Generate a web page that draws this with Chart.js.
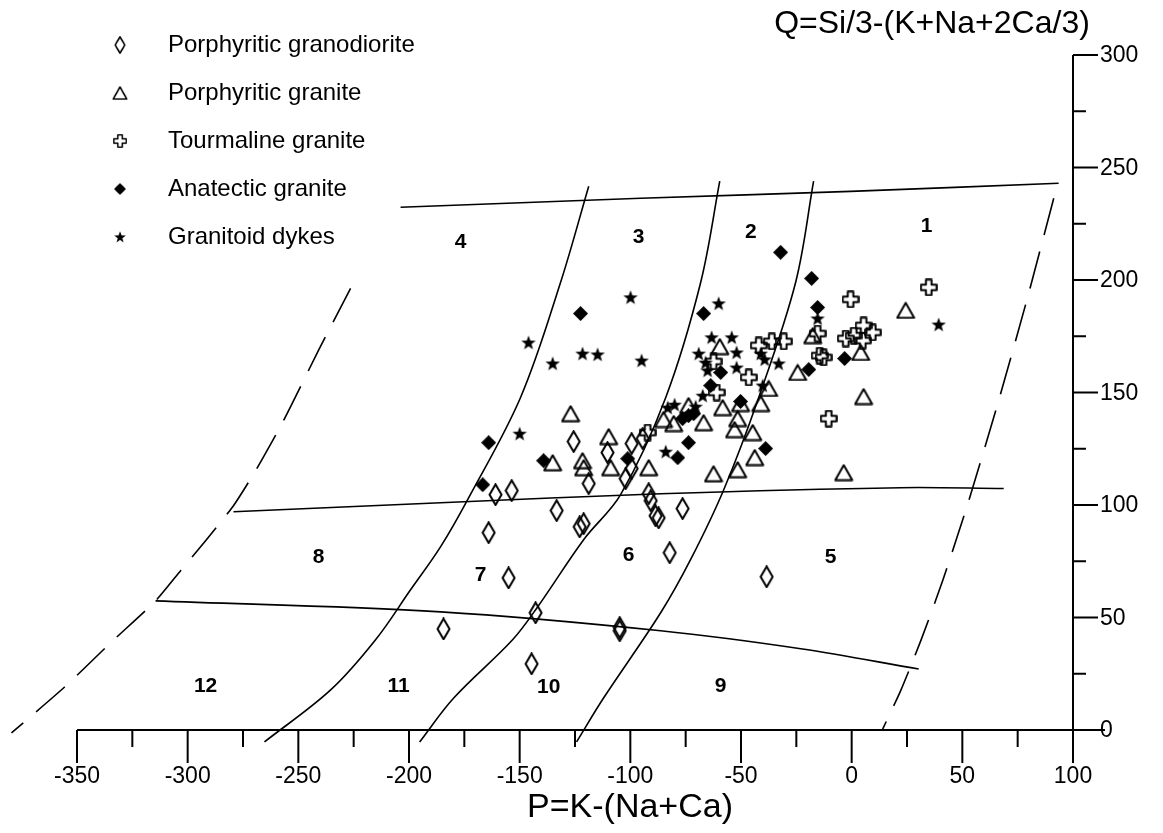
<!DOCTYPE html>
<html>
<head>
<meta charset="utf-8">
<script src="https://cdn.jsdelivr.net/npm/chart.js@4.4.1/dist/chart.umd.min.js"></script>
<style>
html, body { margin: 0; padding: 0; background: #fff; }
canvas { display: block; }
</style>
</head>
<body>
<canvas id="myChart" width="1163" height="833"></canvas>
<script>
// axis ticks
const xTicks = [-350, -300, -250, -200, -150, -100, -50, 0, 50, 100];
const xMinorTicks = [-325, -275, -225, -175, -125, -75, -25, 25, 75];
const yTicks = [0, 50, 100, 150, 200, 250, 300];
const yMinorTicks = [25, 75, 125, 175, 225, 275];

const seriesNames = ['Porphyritic granodiorite', 'Porphyritic granite', 'Tourmaline granite', 'Anatectic granite', 'Granitoid dykes'];

// P, Q values
const granodiorite = [
    [-125.6, 128.2], [-118.8, 109.5], [-110.3, 123.3], [-99.4, 127.3], [-99.4, 116.2],
    [-102.1, 111.7], [-94.4, 129.5], [-160.9, 104.6], [-153.6, 106.4], [-133.3, 97.5],
    [-122.9, 90.3], [-121.1, 91.7], [-164.0, 87.7], [-155.0, 67.6], [-142.8, 52.1],
    [-184.4, 44.9], [-104.8, 44.1], [-104.8, 45.5], [-144.6, 29.4], [-91.7, 105.0],
    [-90.8, 101.9], [-88.6, 95.2], [-87.2, 94.3], [-76.4, 98.4], [-82.2, 78.8],
    [-38.4, 68.1]
];
const porphGranite = [
    [-127.0, 140.6], [-109.8, 130.4], [-121.6, 119.7], [-121.1, 116.6], [-108.9, 116.6],
    [-135.1, 118.8], [-91.7, 116.6], [-85.0, 138.0], [-80.4, 136.2], [-66.9, 136.6],
    [-58.3, 143.3], [-50.2, 145.1], [-51.5, 138.4], [-52.9, 133.5], [-44.7, 132.2],
    [-43.8, 121.1], [-62.4, 113.9], [-51.5, 115.7], [-59.6, 170.4], [-73.7, 144.2],
    [-41.1, 145.1], [-37.5, 151.8], [-24.4, 158.9], [-17.6, 175.3], [4.1, 167.8],
    [5.4, 148.2], [24.4, 186.5], [-3.6, 114.4]
];
const tourmaline = [
    [-92.2, 132.2], [-62.4, 163.8], [-61.0, 150.0], [-46.5, 156.7], [-42.0, 170.9],
    [-36.1, 172.7], [-30.7, 172.7], [-15.4, 176.2], [-14.5, 166.4], [-12.7, 165.6],
    [-2.7, 174.0], [0.9, 175.3], [5.4, 179.8], [9.5, 176.7], [5.0, 173.1],
    [-10.4, 138.4], [-0.5, 191.4], [34.8, 196.7]
];
const anatectic = [
    [-122.5, 185.1], [-164.0, 127.7], [-166.7, 109.0], [-139.2, 119.7], [-101.2, 120.6],
    [-76.4, 138.4], [-73.7, 139.7], [-71.4, 140.6], [-73.7, 127.7], [-78.6, 121.0],
    [-66.9, 185.1], [-59.2, 158.9], [-63.7, 153.1], [-50.2, 146.0], [-19.4, 160.2],
    [-3.2, 165.1], [-32.1, 212.3], [-18.1, 200.7], [-15.4, 187.8], [-38.9, 125.1]
];
const dykes = [
    [-99.9, 192.3], [-146.0, 172.2], [-135.1, 162.9], [-121.6, 167.3], [-114.8, 166.9],
    [-94.9, 164.2], [-150.0, 131.7], [-60.1, 189.6], [-63.3, 174.5], [-54.2, 174.5],
    [-52.0, 167.8], [-69.1, 167.3], [-66.0, 163.3], [-65.1, 159.8], [-52.0, 161.1],
    [-67.3, 148.6], [-70.5, 143.7], [-83.1, 143.3], [-80.0, 144.6], [-84.0, 123.7],
    [-41.1, 167.3], [-39.3, 164.7], [-33.0, 162.9], [-40.2, 153.1], [-15.4, 182.9],
    [39.3, 180.2]
];

// field boundaries of the diagram
const lineTop = [[-203.8, 232.3], [-95.3, 236.3], [-0.5, 239.4], [93.5, 243.0]];
const lineMid = [[-279.3, 97.0], [-185.7, 101.0], [-86.3, 105.0], [22.1, 107.7], [68.7, 107.3]];
const lineLow = [[-314.5, 57.4], [-185.7, 52.5], [-86.3, 44.1], [-23.0, 36.1], [30.3, 27.1]];
const curve1 = [[-118.8, 241.7], [-131.5, 199.0], [-149.6, 147.8], [-173.5, 102.4], [-185.7, 81.5],
    [-199.3, 62.3], [-215.1, 40.1], [-235.4, 17.8], [-265.3, -5.3]];
const curve2 = [[-59.6, 243.9], [-68.2, 199.0], [-84.0, 147.8], [-104.4, 104.6], [-121.1, 84.6],
    [-141.9, 54.7], [-153.2, 40.1], [-179.8, 14.2], [-195.2, -5.3]];
const curve3 = [[-17.2, 243.9], [-25.3, 199.0], [-42.0, 147.8], [-57.8, 106.8], [-72.8, 75.7],
    [-86.3, 52.1], [-112.1, 14.2], [-124.3, -5.3]];
const dashLeft = [[-226.4, 196.3], [-240.9, 168.7], [-256.7, 137.5], [-269.3, 115.3], [-279.3, 99.7],
    [-291.9, 84.1], [-303.2, 70.8], [-314.5, 57.4], [-333.9, 39.6], [-355.6, 19.1], [-379.6, -1.3]];
const dashRight = [[91.3, 236.3], [79.1, 190.9], [66.4, 146.4], [52.9, 101.9], [41.1, 66.3],
    [31.2, 39.6], [22.1, 17.4], [14.0, 0.4]];

const fieldNames = ['4', '3', '2', '1', '8', '7', '6', '5', '12', '11', '10', '9'];
const fieldAt = [[-176.7, 216.6], [-96.3, 218.9], [-45.6, 221.2], [33.9, 223.9],
    [-240.9, 76.9], [-167.6, 68.9], [-100.8, 77.9], [-9.5, 76.9],
    [-291.9, 19.6], [-204.7, 19.6], [-136.9, 19.1], [-59.2, 19.6]];

const toXY = arr => arr.map(p => ({ x: p[0], y: p[1] }));

function marker(w, h, draw) {
    const c = document.createElement('canvas');
    c.width = w;
    c.height = h;
    const g = c.getContext('2d');
    g.strokeStyle = '#000';
    g.fillStyle = '#000';
    g.lineWidth = 2;
    draw(g, w, h);
    return c;
}

const openDiamond = marker(15, 23, (g, w, h) => {
    g.beginPath();
    g.moveTo(w / 2, 1.2); g.lineTo(w - 1.5, h / 2); g.lineTo(w / 2, h - 1.2); g.lineTo(1.5, h / 2);
    g.closePath();
    g.stroke();
});
const openTriangle = marker(20, 18, (g, w, h) => {
    g.lineJoin = 'round';
    g.beginPath();
    g.moveTo(w / 2, 1.5); g.lineTo(w - 1.5, h - 1.5); g.lineTo(1.5, h - 1.5);
    g.closePath();
    g.stroke();
});
const openCross = marker(18, 18, (g) => {
    const pts = [[6.2, 1.2], [11.8, 1.2], [11.8, 6.2], [16.8, 6.2], [16.8, 11.8], [11.8, 11.8],
        [11.8, 16.8], [6.2, 16.8], [6.2, 11.8], [1.2, 11.8], [1.2, 6.2], [6.2, 6.2]];
    g.lineJoin = 'round';
    g.beginPath();
    pts.forEach((p, i) => i ? g.lineTo(p[0], p[1]) : g.moveTo(p[0], p[1]));
    g.closePath();
    g.stroke();
});
const filledDiamond = marker(15, 15, (g, w, h) => {
    g.beginPath();
    g.moveTo(w / 2, 0); g.lineTo(w, h / 2); g.lineTo(w / 2, h); g.lineTo(0, h / 2);
    g.closePath();
    g.fill();
});
const filledStar = marker(16, 16, (g) => {
    g.beginPath();
    for (let i = 0; i < 10; i++) {
        const r = i % 2 ? 3.1 : 7.6;
        const a = -Math.PI / 2 + i * Math.PI / 5;
        g.lineTo(8 + r * Math.cos(a), 8.6 + r * Math.sin(a));
    }
    g.closePath();
    g.fill();
});

const markers = [openDiamond, openTriangle, openCross, filledDiamond, filledStar];
const seriesData = [granodiorite, porphGranite, tourmaline, anatectic, dykes];

const pointSets = seriesData.map((arr, i) => ({
    label: seriesNames[i],
    data: toXY(arr),
    pointStyle: markers[i],
    pointRadius: 8,
    showLine: false,
    order: 1
}));

function boundary(arr, dashed) {
    return {
        data: toXY(arr),
        showLine: true,
        pointRadius: 0,
        borderColor: '#000',
        borderWidth: 1.6,
        borderDash: dashed ? [38, 17] : [],
        tension: dashed ? 0.2 : 0.35,
        clip: false,
        order: 2
    };
}

const lineSets = [
    boundary(lineTop), boundary(lineMid), boundary(lineLow),
    boundary(curve1), boundary(curve2), boundary(curve3),
    boundary(dashLeft, true), boundary(dashRight, true)
];

// axes, legend and labels drawn by hand
const diagramFrame = {
    id: 'diagramFrame',
    afterDraw(chart) {
        const ctx = chart.ctx;
        const xs = chart.scales.x;
        const ys = chart.scales.y;
        const y0 = ys.getPixelForValue(0);
        const xr = xs.getPixelForValue(100);
        ctx.save();
        ctx.strokeStyle = '#000';
        ctx.fillStyle = '#000';
        ctx.lineWidth = 2;

        ctx.beginPath();
        ctx.moveTo(xs.getPixelForValue(-350), y0);
        ctx.lineTo(xr + 32, y0);
        ctx.moveTo(xr, ys.getPixelForValue(300));
        ctx.lineTo(xr, y0 + 33);
        for (const v of xTicks) {
            const px = xs.getPixelForValue(v);
            ctx.moveTo(px, y0);
            ctx.lineTo(px, y0 + 33);
        }
        for (const v of xMinorTicks) {
            const px = xs.getPixelForValue(v);
            ctx.moveTo(px, y0);
            ctx.lineTo(px, y0 + 17);
        }
        for (const v of yTicks) {
            const py = ys.getPixelForValue(v);
            ctx.moveTo(xr, py);
            ctx.lineTo(xr + 25, py);
        }
        for (const v of yMinorTicks) {
            const py = ys.getPixelForValue(v);
            ctx.moveTo(xr, py);
            ctx.lineTo(xr + 13, py);
        }
        ctx.stroke();

        ctx.font = '23px "Liberation Sans", Arial, sans-serif';
        ctx.textAlign = 'center';
        ctx.textBaseline = 'top';
        for (const v of xTicks) {
            ctx.fillText(String(v), xs.getPixelForValue(v), y0 + 35);
        }
        ctx.textAlign = 'left';
        ctx.textBaseline = 'middle';
        for (const v of yTicks) {
            ctx.fillText(String(v), xr + 27, ys.getPixelForValue(v) + 1);
        }

        ctx.textAlign = 'center';
        ctx.font = '34px "Liberation Sans", Arial, sans-serif';
        ctx.fillText('P=K-(Na+Ca)', 630, 808);
        ctx.font = '32px "Liberation Sans", Arial, sans-serif';
        ctx.fillText('Q=Si/3-(K+Na+2Ca/3)', 932, 24);

        ctx.font = 'bold 21px "Liberation Sans", Arial, sans-serif';
        fieldNames.forEach((name, i) => {
            ctx.fillText(name, xs.getPixelForValue(fieldAt[i][0]), ys.getPixelForValue(fieldAt[i][1]));
        });

        ctx.font = '24px "Liberation Sans", Arial, sans-serif';
        ctx.textAlign = 'left';
        seriesNames.forEach((name, i) => {
            const ly = 45 + i * 48;
            const m = markers[i];
            ctx.drawImage(m, 120 - m.width * 0.4, ly - m.height * 0.4, m.width * 0.8, m.height * 0.8);
            ctx.fillText(name, 168, ly);
        });
        ctx.restore();
    }
};

const ctx = document.getElementById('myChart').getContext('2d');
const myChart = new Chart(ctx, {
    type: 'scatter',
    data: {
        datasets: pointSets.concat(lineSets)
    },
    options: {
        responsive: false,
        animation: false,
        layout: {
            padding: { left: 77, right: 90, top: 55, bottom: 103 }
        },
        plugins: {
            legend: { display: false },
            tooltip: { enabled: false }
        },
        scales: {
            x: { type: 'linear', min: -350, max: 100, display: false },
            y: { type: 'linear', min: 0, max: 300, display: false }
        }
    },
    plugins: [diagramFrame]
});
</script>
</body>
</html>
